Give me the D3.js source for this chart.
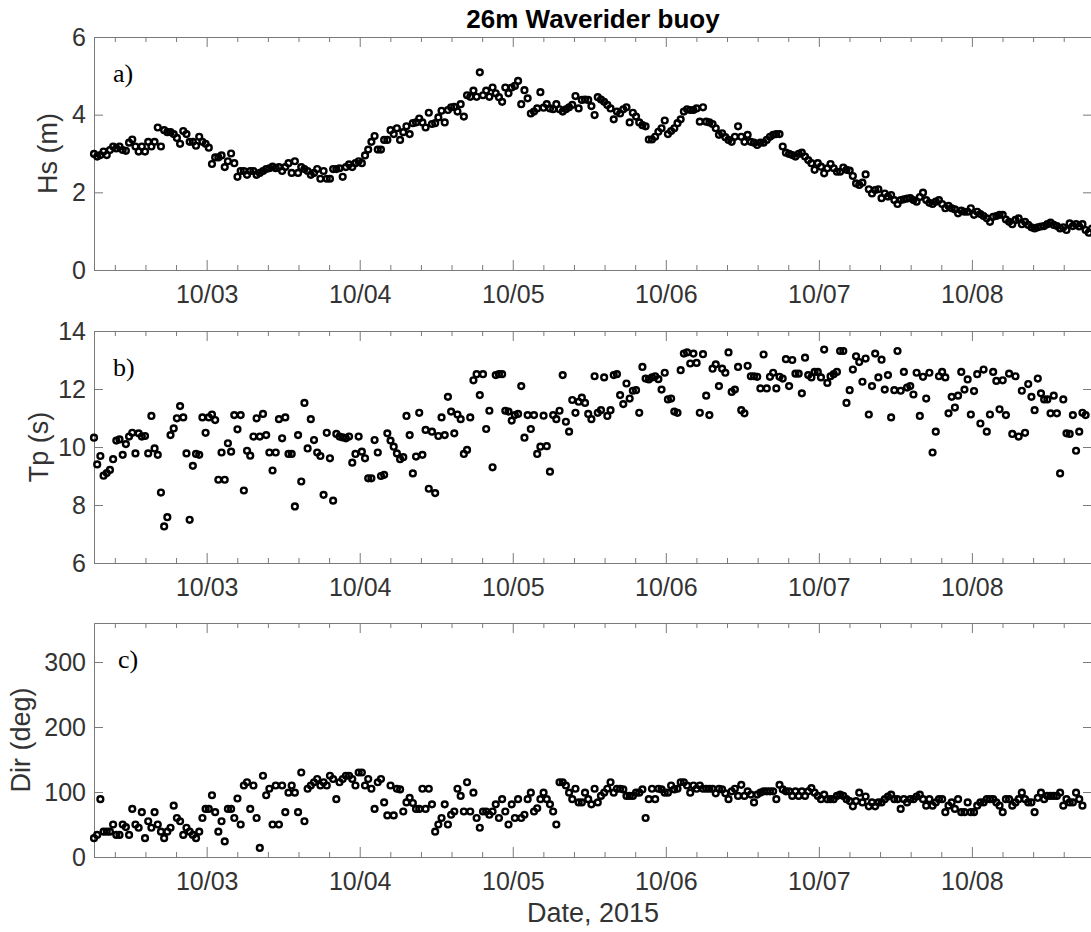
<!DOCTYPE html>
<html>
<head>
<meta charset="utf-8">
<script src="https://cdn.jsdelivr.net/npm/d3@7"></script>
<style>
  body { margin: 0; background: #fff; }
  svg { display: block; }
</style>
</head>
<body>
<div id="chart"></div>
<script>
const w = 1091;
const h = 932;

// first sample 02-Oct-2015 06:20 (UTC), one record every 30 minutes
const startTime = Date.UTC(2015, 9, 2, 6, 20);
const stepMinutes = 30;
const axisStart = new Date(Date.UTC(2015, 9, 2, 6, 20));
const axisEnd = new Date(Date.UTC(2015, 9, 8, 18, 50));

// significant wave height (m)
const hs = [
  2.99, 2.92, 2.96, 3.05, 2.96, 3.09, 3.18, 3.13, 3.18, 3.09,
  3.07, 3.28, 3.36, 3.18, 3.05, 3.18, 3.05, 3.3, 3.18, 3.3,
  3.67, 3.18, 3.6, 3.55, 3.55, 3.5, 3.4, 3.25, 3.58, 3.5,
  3.3, 3.3, 3.2, 3.43, 3.3, 3.25, 3.15, 2.73, 2.9, 2.9,
  2.95, 2.65, 2.8, 3.0, 2.75, 2.4, 2.55, 2.55, 2.45, 2.55,
  2.55, 2.45, 2.5, 2.55, 2.6, 2.62, 2.66, 2.62, 2.65, 2.55,
  2.65, 2.75, 2.5, 2.8, 2.5, 2.65, 2.6, 2.55, 2.45, 2.5,
  2.6, 2.35, 2.55, 2.35, 2.35, 2.6, 2.6, 2.62, 2.4, 2.65,
  2.72, 2.65, 2.75, 2.8, 2.75, 2.95, 3.1, 3.3, 3.45, 3.1,
  3.1, 3.35, 3.35, 3.6, 3.5, 3.65,
  3.35, 3.55, 3.7, 3.5, 3.78, 3.8, 3.9, 3.8, 3.67, 4.05,
  3.76, 3.78, 3.93, 4.1, 3.8, 4.12, 4.19, 4.2, 4.08, 4.27,
  3.95, 4.5, 4.46, 4.62, 4.46, 5.09, 4.5, 4.62, 4.46, 4.7,
  4.55, 4.45, 4.33, 4.7, 4.55, 4.7, 4.74, 4.87, 4.27, 4.63,
  4.42, 4.03, 4.08, 4.16, 4.58, 4.18, 4.27, 4.16, 4.14, 4.27,
  4.14, 4.08, 4.14, 4.19, 4.25, 4.48, 4.16, 4.38, 4.39, 4.38,
  4.22, 3.99, 4.45, 4.39, 4.33, 4.25, 4.16, 3.88, 4.08, 4.03,
  4.14, 4.19, 3.8, 4.05, 3.95, 3.8, 3.73, 3.7, 3.36, 3.36,
  3.43, 3.56, 3.65, 3.85, 3.5, 3.58, 3.65, 3.78, 3.88, 4.08,
  4.14, 4.12, 4.12, 4.16, 3.82, 4.19,
  3.82, 3.8, 3.76, 3.65, 3.48, 3.52, 3.42, 3.35, 3.3, 3.43,
  3.7, 3.43, 3.3, 3.48, 3.3, 3.28, 3.22, 3.28, 3.28, 3.35,
  3.43, 3.48, 3.5, 3.5, 3.18, 3.02, 2.99, 2.96, 2.92, 2.99,
  3.02, 2.92, 2.83, 2.75, 2.58, 2.75, 2.66, 2.49, 2.62, 2.73,
  2.62, 2.53, 2.53, 2.64, 2.58, 2.56, 2.42, 2.23, 2.19, 2.25,
  2.46, 2.08, 1.97, 2.06, 2.08, 1.85, 1.97, 1.89, 1.93, 1.8,
  1.7, 1.8, 1.82, 1.84, 1.85, 1.8, 1.76, 1.88, 1.99, 1.8, 1.73,
  1.7, 1.76, 1.8, 1.7, 1.59, 1.65, 1.59, 1.56, 1.46, 1.53,
  1.5, 1.5, 1.59, 1.42, 1.5, 1.44, 1.39, 1.33, 1.24, 1.37,
  1.39, 1.42, 1.42, 1.3, 1.24, 1.18, 1.29, 1.33, 1.18, 1.24,
  1.16, 1.1, 1.07, 1.1, 1.12, 1.13, 1.18, 1.22, 1.16, 1.13, 1.07,
  1.1, 1.03, 1.2, 1.13, 1.18, 1.12, 1.18, 1.03, 0.96, 1.07
];

// peak period (s)
const tp = [
  10.32, 9.4, 9.69, 9.01, 9.1, 9.21, 9.58, 10.22, 10.26, 9.73,
  10.1, 10.36, 10.49, 9.78, 10.47, 10.36, 10.38, 9.78, 11.07, 9.95,
  9.73, 8.43, 7.26, 7.58, 10.41, 10.64, 10.99, 11.41, 11.02, 9.78,
  7.49, 9.35, 9.76, 9.73, 11.02, 10.49, 11.02, 11.12, 10.93, 8.87,
  9.81, 8.87, 10.13, 9.84, 11.1, 10.61, 11.1, 8.5, 9.87, 9.7,
  10.36, 10.99, 10.36, 11.14, 10.41, 9.81, 9.19, 9.81, 10.96, 10.3,
  11.02, 9.76, 9.76, 7.95, 10.41, 8.81, 11.52, 9.95, 10.96, 10.24,
  9.81, 9.69, 8.35, 10.49, 9.61, 8.15, 10.45, 10.36, 10.33, 10.3,
  10.36, 9.46, 9.76, 10.36, 9.84, 9.61, 8.92, 8.92, 10.24, 9.81,
  9.0, 9.04, 10.47, 10.22, 10.01, 9.78,
  9.58, 9.65, 11.07, 10.41, 9.09, 9.67, 11.18, 9.73, 10.59, 8.56,
  10.53, 8.41, 10.38, 11.02, 10.41, 11.73, 11.22, 10.47, 11.12, 10.96,
  9.76, 9.9, 11.02, 12.3, 12.51, 11.79, 12.51, 10.62, 11.25, 9.3,
  12.48, 12.51, 12.51, 11.25, 11.22, 10.91, 11.1, 11.14, 12.1, 10.32,
  11.1, 10.62, 11.1, 9.76, 10.01, 11.08, 10.03, 9.15, 11.1, 10.96,
  11.25, 12.48, 10.87, 10.53, 11.62, 11.18, 11.56, 11.7, 11.52, 11.14,
  10.96, 12.44, 11.18, 11.27, 12.4, 11.07, 11.27, 12.48, 12.51, 11.79,
  11.48, 12.19, 11.67, 11.94, 11.96, 11.18, 12.76, 12.36, 12.33, 12.4,
  12.44, 12.34, 11.98, 12.56, 11.64, 11.67, 11.22, 11.18, 12.65, 13.22,
  13.26, 12.88, 13.22, 12.9,
  11.18, 13.2, 11.77, 11.1, 12.7, 12.85, 12.1, 12.7, 12.56, 13.26,
  11.9, 11.98, 12.76, 11.27, 11.16, 12.8, 12.44, 12.44, 12.42, 12.02,
  13.19, 12.02, 12.42, 12.56, 12.02, 12.42, 12.36, 13.03, 12.1, 13.0,
  12.53, 12.53, 11.85, 13.08, 12.48, 12.4, 12.59, 12.59, 12.4, 13.36,
  12.21, 12.44, 12.51, 12.59, 13.31, 13.31, 11.52, 11.96, 12.67, 13.13,
  12.93, 12.25, 13.05, 11.12, 12.1, 13.22, 12.4, 13.01, 11.98, 12.48,
  11.02, 11.96, 13.31, 11.94, 12.59, 12.05, 12.1, 11.81, 12.56, 11.07,
  12.42, 11.67, 12.56, 9.81, 10.53, 12.44, 12.59, 12.4, 11.16, 11.73,
  11.36, 11.77, 12.59, 11.98, 12.33, 11.12, 11.93, 12.51, 10.81, 12.67,
  10.53, 11.12, 12.59, 12.28, 11.3, 12.3, 11.1, 12.53, 10.45, 12.44,
  10.36, 11.94, 10.49, 12.17, 11.73, 11.27, 12.36, 11.85, 11.64, 11.64,
  11.16, 11.77, 11.16, 9.09, 11.64, 10.47, 10.45, 11.1, 9.87, 10.53,
  11.18, 11.1
];

// peak direction (deg)
const dir = [
  29, 34, 89, 39, 39, 39, 50, 34, 34, 50,
  46, 34, 74, 50, 45, 69, 29, 55, 45, 69,
  50, 39, 29, 39, 45, 79, 60, 55, 34, 45,
  39, 34, 29, 39, 60, 74, 74, 95, 69, 39,
  55, 24, 74, 74, 60, 90, 50, 110, 115, 74,
  110, 60, 14, 125, 95, 105, 50, 110, 50, 110,
  69, 99, 110, 99, 69, 130, 55, 105, 110, 115,
  120, 110, 115, 110, 125, 120, 89, 115, 120, 125,
  125, 120, 110, 130, 130, 110, 120, 105, 74, 115,
  120, 84, 64, 110, 64, 105,
  104, 70, 84, 91, 83, 74, 74, 105, 74, 105,
  81, 39, 50, 60, 81, 50, 65, 70, 105, 94,
  70, 115, 70, 99, 60, 45, 70, 70, 65, 70,
  81, 60, 89, 70, 50, 81, 60, 89, 60, 65,
  89, 99, 70, 75, 89, 99, 89, 81, 70, 50,
  115, 115, 110, 99, 89, 105, 84, 84, 99, 89,
  81, 105, 84, 94, 99, 105, 115, 99, 105, 105,
  104, 94, 94, 94, 99, 99, 104, 60, 89, 105,
  89, 105, 104, 99, 99, 110, 104, 105, 115, 115,
  110, 99, 110, 105, 110, 105, 105, 105,
  105, 98, 105, 104, 98, 89, 101, 105, 94, 111,
  94, 101, 96, 84, 96, 99, 101, 101, 101, 101,
  89, 111, 104, 101, 101, 94, 101, 94, 101, 94,
  101, 106, 99, 94, 89, 96, 89, 89, 89, 94,
  96, 94, 89, 86, 78, 86, 99, 84, 93, 78,
  84, 78, 84, 84, 89, 93, 96, 89, 89, 74,
  89, 84, 89, 89, 93, 96, 89, 79, 89, 79,
  84, 89, 89, 69, 79, 84, 74, 89, 69, 69,
  84, 69, 69, 79, 84, 84, 89, 89, 89, 84,
  79, 69, 89, 89, 79, 84, 89, 99, 89, 84,
  84, 69, 91, 99, 89, 94, 94, 94, 94, 99,
  79, 89, 84, 84, 99, 89, 79
];

const dayTicks = [3, 4, 5, 6, 7, 8];
const hsTicks = [0, 2, 4, 6];
const tpTicks = [6, 8, 10, 12, 14];
const dirTicks = [0, 100, 200, 300];

const left = 94;
const right = 1092;
const axisColor = "#7a7a7a";
const textColor = "#333333";

const panels = [
  { values: hs, domain: [0, 6], ticks: hsTicks, label: "Hs (m)", tag: "a)",
    top: 37, bottom: 270, labelX: 57, tagX: 113 },
  { values: tp, domain: [6, 14], ticks: tpTicks, label: "Tp (s)", tag: "b)",
    top: 331, bottom: 563, labelX: 48, tagX: 113 },
  { values: dir, domain: [0, 360], ticks: dirTicks, label: "Dir (deg)", tag: "c)",
    top: 623, bottom: 857, labelX: 30, tagX: 118 },
];

const svg = d3
  .select("#chart")
  .append("svg")
  .attr("width", w)
  .attr("height", h)
  .style("background", "#fff");

const x = d3.scaleUtc().domain([axisStart, axisEnd]).range([left, right]);

const days = dayTicks.map((d) => new Date(Date.UTC(2015, 9, d)));
// minor ticks every fifth of a day
const minor = [];
for (let d = 2; d <= 8; d++) {
  for (let k = 1; k < 5; k++) {
    const t = new Date(Date.UTC(2015, 9, d) + k * 0.2 * 864e5);
    if (t >= axisStart && t <= axisEnd) minor.push(t);
  }
}

const timeOf = (i) => new Date(startTime + i * stepMinutes * 60000);

const styleAxis = function (g) {
  g.attr("font-size", 25).attr("font-family", "'Liberation Sans', Arial, sans-serif");
  g.selectAll(".domain").attr("stroke", axisColor);
  g.selectAll(".tick line").attr("stroke", axisColor);
  g.selectAll(".tick text").attr("fill", textColor);
};

panels.forEach((p) => {
  const y = d3.scaleLinear().domain(p.domain).range([p.bottom, p.top]);
  const g = svg.append("g");

  // bottom axis with date labels
  g.append("g")
    .attr("transform", `translate(0,${p.bottom})`)
    .call(
      d3.axisBottom(x).tickValues(days).tickSize(-10).tickSizeOuter(0)
        .tickPadding(15).tickFormat(d3.utcFormat("%m/%d"))
    )
    .call(styleAxis);
  g.append("g")
    .attr("transform", `translate(0,${p.bottom})`)
    .call(d3.axisBottom(x).tickValues(minor).tickSize(-5).tickSizeOuter(0).tickFormat(""))
    .call(styleAxis);

  // top box edge
  g.append("g")
    .attr("transform", `translate(0,${p.top})`)
    .call(d3.axisTop(x).tickValues(days).tickSize(-10).tickSizeOuter(0).tickFormat(""))
    .call(styleAxis);
  g.append("g")
    .attr("transform", `translate(0,${p.top})`)
    .call(d3.axisTop(x).tickValues(minor).tickSize(-5).tickSizeOuter(0).tickFormat(""))
    .call(styleAxis);

  g.append("g")
    .attr("transform", `translate(${left},0)`)
    .call(
      d3.axisLeft(y).tickValues(p.ticks).tickSize(-9).tickSizeOuter(0)
        .tickPadding(8).tickFormat(d3.format("d"))
    )
    .call(styleAxis);
  g.append("g")
    .attr("transform", `translate(${right},0)`)
    .call(d3.axisRight(y).tickValues(p.ticks).tickSize(-9).tickSizeOuter(0).tickFormat(""))
    .call(styleAxis);

  g.append("g")
    .selectAll("circle")
    .data(p.values)
    .join("circle")
    .attr("cx", (d, i) => x(timeOf(i)))
    .attr("cy", (d) => y(d))
    .attr("r", 2.9)
    .attr("fill", "none")
    .attr("stroke", "#000")
    .attr("stroke-width", 2.4);

  g.append("text")
    .text(p.label)
    .attr("transform", `translate(${p.labelX},${(p.top + p.bottom) / 2}) rotate(-90)`)
    .attr("text-anchor", "middle")
    .attr("font-family", "'Liberation Sans', Arial, sans-serif")
    .attr("font-size", 27)
    .attr("fill", textColor);

  g.append("text")
    .text(p.tag)
    .attr("x", p.tagX)
    .attr("y", p.top + 45)
    .attr("font-family", "'Liberation Serif', 'Times New Roman', serif")
    .attr("font-size", 26)
    .attr("fill", "#000");
});

svg.append("text")
  .text("26m Waverider buoy")
  .attr("x", (left + right) / 2)
  .attr("y", 28)
  .attr("text-anchor", "middle")
  .attr("font-family", "'Liberation Sans', Arial, sans-serif")
  .attr("font-weight", "bold")
  .attr("font-size", 26)
  .attr("fill", "#000");

svg.append("text")
  .text("Date, 2015")
  .attr("x", (left + right) / 2)
  .attr("y", 922)
  .attr("text-anchor", "middle")
  .attr("font-family", "'Liberation Sans', Arial, sans-serif")
  .attr("font-size", 27)
  .attr("fill", textColor);
</script>
</body>
</html>
